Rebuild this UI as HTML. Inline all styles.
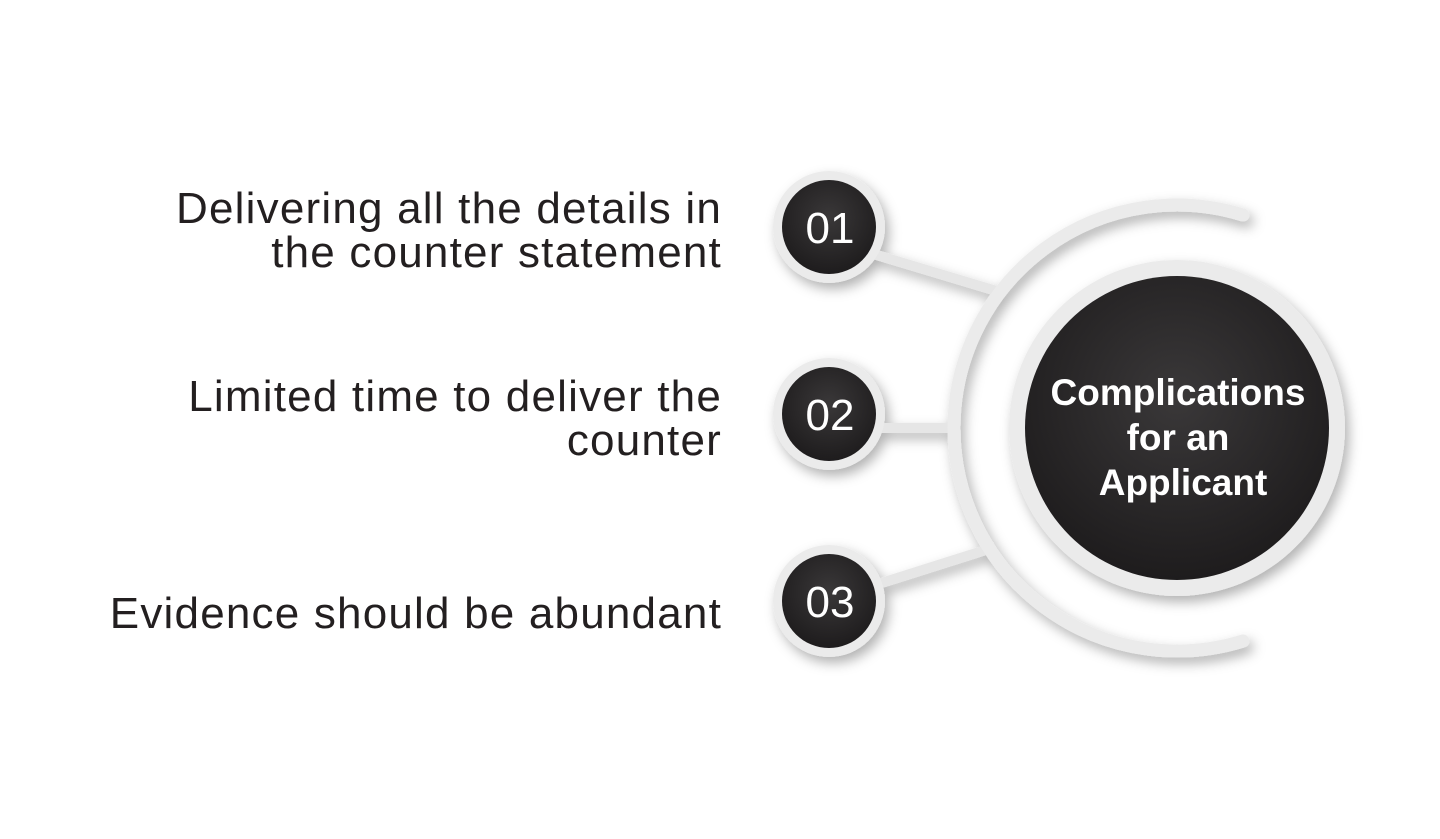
<!DOCTYPE html>
<html><head><style>
body{margin:0;width:1440px;height:839px;background:#fff;overflow:hidden;position:relative;font-family:"Liberation Sans",sans-serif}
.t{position:absolute;right:718px;text-align:right;font-size:44px;line-height:44px;letter-spacing:1.2px;color:#231f20}
</style></head><body>
<svg width="1440" height="839" style="position:absolute;left:0;top:0">
<defs>
<radialGradient id="g" cx="50%" cy="40%" r="60%"><stop offset="0" stop-color="#3a3839"/><stop offset="1" stop-color="#1e1c1d"/></radialGradient>
<filter id="s" x="-30%" y="-30%" width="160%" height="160%"><feDropShadow dx="4" dy="6" stdDeviation="6" flood-color="#000" flood-opacity="0.3"/></filter>
</defs>
<g filter="url(#s)">
<line x1="870" y1="253" x2="1000" y2="292" stroke="#e6e6e6" stroke-width="10"/>
<line x1="875" y1="428" x2="960" y2="428" stroke="#e6e6e6" stroke-width="10"/>
<line x1="875" y1="585" x2="995" y2="547" stroke="#e6e6e6" stroke-width="10"/>
<path d="M1243,215 A223,223 0 1 0 1243,641" fill="none" stroke="#ebebeb" stroke-width="13" stroke-linecap="round"/>
<circle cx="1177" cy="428" r="168" fill="#ebebeb"/>
<circle cx="829" cy="227" r="56" fill="#ebebeb"/>
<circle cx="829" cy="414" r="56" fill="#ebebeb"/>
<circle cx="829" cy="601" r="56" fill="#ebebeb"/>
</g>
<circle cx="1177" cy="428" r="152" fill="url(#g)"/>
<circle cx="829" cy="227" r="47" fill="url(#g)"/>
<circle cx="829" cy="414" r="47" fill="url(#g)"/>
<circle cx="829" cy="601" r="47" fill="url(#g)"/>
<g font-family="Liberation Sans, sans-serif" font-size="44" fill="#fff" text-anchor="middle">
<text x="830" y="243">01</text><text x="830" y="430">02</text><text x="830" y="617">03</text>
</g>
<g font-family="Liberation Sans, sans-serif" font-size="37" font-weight="bold" fill="#fff" text-anchor="middle">
<text x="1178" y="405">Complications</text><text x="1178" y="450">for an</text><text x="1183" y="495">Applicant</text>
</g>
</svg>
<div class="t" style="top:187px">Delivering all the details in<br>the counter statement</div>
<div class="t" style="top:375px">Limited time to deliver the<br>counter</div>
<div class="t" style="top:592px">Evidence should be abundant</div>
</body></html>
